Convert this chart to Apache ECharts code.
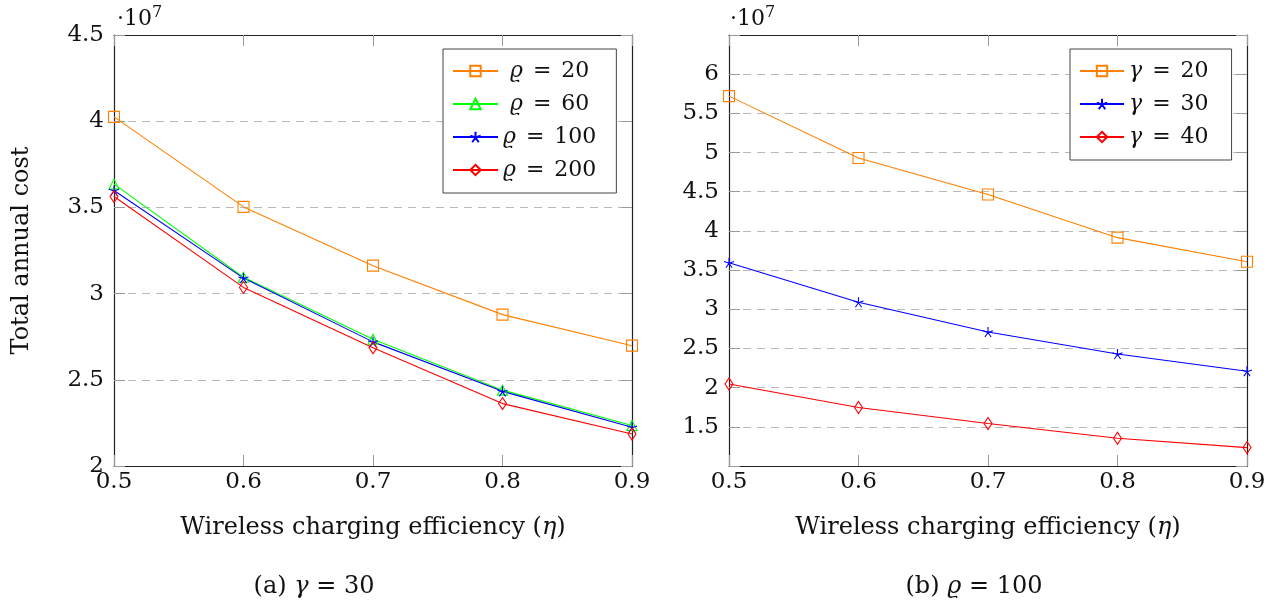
<!DOCTYPE html>
<html>
<head>
<meta charset="utf-8">
<script src="https://cdn.jsdelivr.net/npm/echarts@6/dist/echarts.min.js"></script>
<style>
  html, body { margin: 0; padding: 0; background: #fff; }
  #chart { width: 1282px; height: 608px; }
</style>
</head>
<body>
<div id="chart"></div>
<script>
// x values (wireless charging efficiency)
const eta = [0.5, 0.6, 0.7, 0.8, 0.9];

// (a) gamma = 30, values in 1e7
const rho20 = [4.025, 3.503, 3.162, 2.878, 2.698];
const rho60 = [3.635, 3.095, 2.735, 2.44, 2.235];
const rho100 = [3.598, 3.09, 2.72, 2.433, 2.225];
const rho200 = [3.563, 3.036, 2.686, 2.362, 2.186];

// (b) rho = 100, values in 1e7
const gamma20 = [5.72, 4.93, 4.465, 3.914, 3.607];
const gamma30 = [3.594, 3.09, 2.71, 2.43, 2.21];
const gamma40 = [2.046, 1.747, 1.542, 1.354, 1.235];

const FONT = "DejaVu Serif";
const GRAY = "#9a9a9a";
const ORANGE = "#ff8000";

const pts = arr => eta.map((x, i) => [x, arr[i]]);

const star = "path://M0 0L0 -10M0 0L9.5 -3.1M0 0L5.9 8.1M0 0L-5.9 8.1M0 0L-9.5 -3.1";

function line(name, data, color, symbol, size, xi) {
  return {
    name: name,
    type: "line",
    xAxisIndex: xi,
    yAxisIndex: xi,
    data: pts(data),
    symbol: symbol,
    symbolSize: size,
    showSymbol: true,
    silent: true,
    animation: false,
    lineStyle: { color: color, width: 1.1 },
    itemStyle: { color: "none", borderColor: color, borderWidth: 1.1 }
  };
}

function xAx(gi, bottom) {
  return {
    type: "value",
    gridIndex: gi,
    position: bottom ? "bottom" : "top",
    min: 0.5,
    max: 0.9,
    interval: 0.1,
    axisLine: { show: true, onZero: false, lineStyle: { color: "#222", width: 1.2 } },
    axisTick: { show: true, inside: true, length: 11, lineStyle: { color: GRAY } },
    axisLabel: {
      show: bottom,
      margin: 5,
      color: "#111",
      fontFamily: FONT,
      fontSize: 23,
      formatter: v => v.toFixed(1)
    },
    splitLine: { show: false },
    name: bottom ? "Wireless charging efficiency ({i|η})" : "",
    nameLocation: "middle",
    nameGap: 50,
    nameTextStyle: {
      color: "#111",
      fontFamily: FONT,
      fontSize: 24,
      rich: { i: { fontFamily: FONT, fontSize: 24, fontStyle: "italic", color: "#111" } }
    }
  };
}

function yAx(gi, left, min, max, fmt, name) {
  return {
    type: "value",
    gridIndex: gi,
    position: left ? "left" : "right",
    min: min,
    max: max,
    interval: 0.5,
    axisLine: { show: true, onZero: false, lineStyle: { color: "#222", width: 1.2 } },
    axisTick: { show: true, inside: true, length: 11, lineStyle: { color: GRAY } },
    axisLabel: {
      show: left,
      margin: 10,
      color: "#111",
      fontFamily: FONT,
      fontSize: 23,
      formatter: fmt
    },
    splitLine: {
      show: left,
      lineStyle: { color: "#b8b8b8", type: [8, 6], width: 1 }
    },
    name: name || "",
    nameLocation: "middle",
    nameGap: 80,
    nameRotate: 90,
    nameTextStyle: { color: "#111", fontFamily: FONT, fontSize: 24 }
  };
}

const chart = echarts.init(document.getElementById("chart"), null, { renderer: "canvas" });

const legendText = {
  color: "#111",
  fontFamily: FONT,
  fontSize: 22,
  rich: {
    i: { fontFamily: FONT, fontSize: 22, fontStyle: "italic", color: "#111" },
    e: { fontFamily: FONT, fontSize: 22, color: "#111", padding: [0, 3] },
    p: { fontFamily: FONT, fontSize: 22, width: 7 }
  }
};

chart.setOption({
  backgroundColor: "#fff",
  animation: false,
  grid: [
    { left: 114, top: 35, width: 518, height: 431 },
    { left: 729, top: 35, width: 518, height: 431 }
  ],
  xAxis: [xAx(0, true), xAx(0, false), xAx(1, true), xAx(1, false)],
  yAxis: [
    yAx(0, true, 2, 4.5, v => String(v), "Total annual cost"),
    yAx(0, false, 2, 4.5, v => String(v)),
    yAx(1, true, 1, 6.5, v => (v < 1.25 || v > 6.25 ? "" : String(v))),
    yAx(1, false, 1, 6.5, v => String(v))
  ],
  legend: [
    {
      orient: "vertical",
      left: 443,
      top: 49,
      padding: [11, 20, 12, 9],
      itemWidth: 45,
      itemHeight: 13,
      itemGap: 11,
      backgroundColor: "#fff",
      borderColor: "#444",
      borderWidth: 1,
      borderRadius: 0,
      selectedMode: false,
      data: ["r20", "r60", "r100", "r200"],
      formatter: n => (n.length < 4 ? "{p| }" : "") + "{i|ϱ} {e|=} " + n.slice(1),
      textStyle: Object.assign({ width: 102 }, legendText)
    },
    {
      orient: "vertical",
      left: 1070,
      top: 49,
      padding: [11, 23, 12, 9],
      itemWidth: 44,
      itemHeight: 13,
      itemGap: 11,
      backgroundColor: "#fff",
      borderColor: "#444",
      borderWidth: 1,
      borderRadius: 0,
      selectedMode: false,
      data: ["g20", "g30", "g40"],
      formatter: n => "{i|γ} {e|=} " + n.slice(1),
      textStyle: Object.assign({ width: 88 }, legendText)
    }
  ],
  series: [
    line("r20", rho20, ORANGE, "rect", 11, 0),
    line("r60", rho60, "#00ff00", "triangle", 10, 0),
    line("r100", rho100, "#0000ff", star, 10, 0),
    line("r200", rho200, "#ff0000", "diamond", [8, 12], 0),
    line("g20", gamma20, ORANGE, "rect", 11, 2),
    line("g30", gamma30, "#0000ff", star, 10, 2),
    line("g40", gamma40, "#ff0000", "diamond", [8, 12], 2)
  ],
  graphic: [
    {
      type: "text",
      left: 117,
      top: 5,
      style: {
        text: "·10{s|7}",
        fill: "#111",
        font: "22px " + FONT,
        rich: { s: { fontFamily: FONT, fontSize: 16, verticalAlign: "top", padding: [0, 0, 12, 0] } }
      }
    },
    {
      type: "text",
      left: 730,
      top: 5,
      style: {
        text: "·10{s|7}",
        fill: "#111",
        font: "22px " + FONT,
        rich: { s: { fontFamily: FONT, fontSize: 16, verticalAlign: "top", padding: [0, 0, 12, 0] } }
      }
    },
    {
      type: "text",
      x: 314,
      y: 587,
      style: {
        text: "(a) {i|γ} = 30",
        fill: "#111",
        font: "24px " + FONT,
        align: "center",
        verticalAlign: "middle",
        rich: { i: { fontFamily: FONT, fontSize: 24, fontStyle: "italic" } }
      }
    },
    {
      type: "text",
      x: 974,
      y: 587,
      style: {
        text: "(b) {i|ϱ} = 100",
        fill: "#111",
        font: "24px " + FONT,
        align: "center",
        verticalAlign: "middle",
        rich: { i: { fontFamily: FONT, fontSize: 24, fontStyle: "italic" } }
      }
    }
  ]
});
</script>
</body>
</html>
